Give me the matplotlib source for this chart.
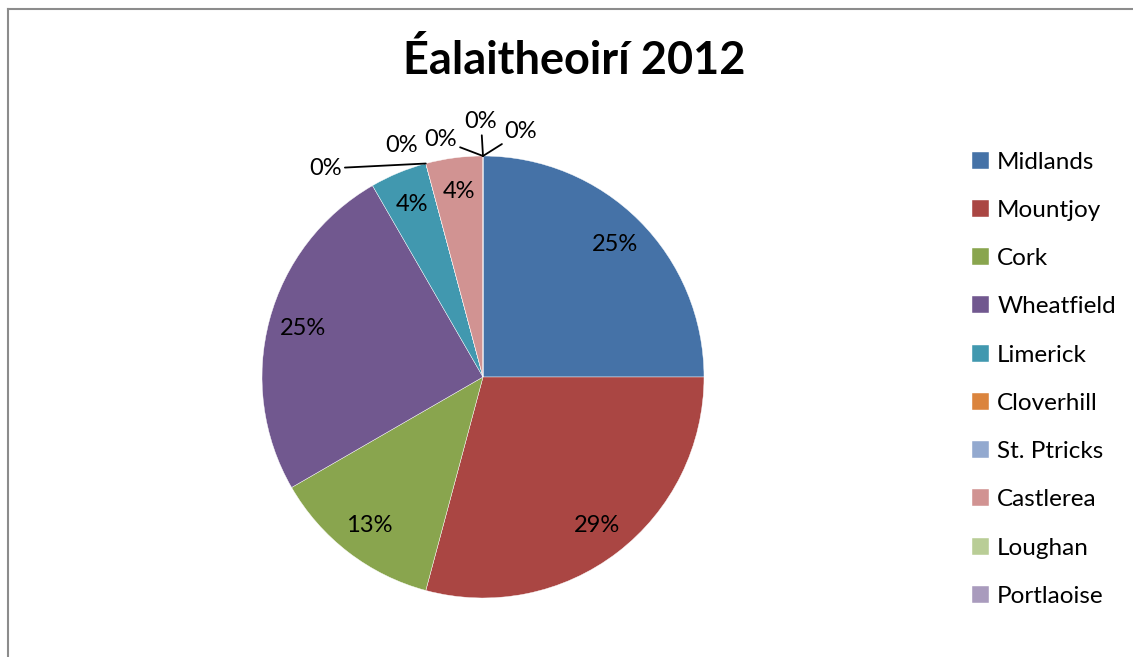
import numpy as np
import matplotlib
matplotlib.use("Agg")
import matplotlib.pyplot as plt
from matplotlib.lines import Line2D

plt.rcParams['font.family'] = ['Lato', 'DejaVu Sans']

# prisons (the last one is cut from the legend in the original chart)
prisons = ["Midlands", "Mountjoy", "Cork", "Wheatfield", "Limerick",
           "Cloverhill", "St. Ptricks", "Castlerea", "Loughan", "Portlaoise", ""]
escapes = [6, 7, 3, 6, 1, 0, 0, 1, 0, 0, 0]
colors = ["#4572A7", "#AA4643", "#89A54E", "#71588F", "#4198AF",
          "#DB843D", "#93A9CF", "#D19392", "#B9CD96", "#A99BBD", "#4572A7"]

# pixel offsets of the 0% labels from their wedge edge (dx, dy up), and leader line on/off
zero_offsets = {5: (-100, -5, True), 6: (-24, 18, False), 8: (-42, 16, True),
                9: (-2, 34, True), 10: (38, 24, True)}

W, H = 1133, 657
fig = plt.figure(figsize=(W / 100, H / 100), dpi=100)

# chart border (only left and top visible)
fig.add_artist(Line2D([7.5 / W, 7.5 / W], [0, 1 - 9 / H], color="#8c8c8c", lw=1.5))
fig.add_artist(Line2D([7.5 / W, 1], [1 - 9 / H, 1 - 9 / H], color="#8c8c8c", lw=1.5))

cx, cy, r = 483, 377, 221
ax = fig.add_axes([(cx - r) / W, (H - cy - r) / H, 2 * r / W, 2 * r / H])
wedges, _ = ax.pie(escapes, colors=colors, startangle=90, counterclock=False,
                   radius=1, wedgeprops=dict(edgecolor="white", linewidth=0.3))
ax.set_xlim(-1, 1)
ax.set_ylim(-1, 1)
ax.set_aspect("equal")
ax.axis("off")

total = sum(escapes)
for i, w in enumerate(wedges):
    pct = "{}%".format(int(100 * escapes[i] / total + 0.5))  # round half up like Excel
    if escapes[i] > 0:
        mid = np.deg2rad((w.theta1 + w.theta2) / 2)
        ax.text(0.845 * np.cos(mid), 0.845 * np.sin(mid), pct, ha="center", va="center",
                fontsize=17, color="black")
    else:
        ang = np.deg2rad(w.theta1)
        x0, y0 = np.cos(ang), np.sin(ang)
        dx, dy, line = zero_offsets[i]
        ax.annotate(pct, xy=(x0, y0), xytext=(dx, dy), textcoords="offset pixels",
                    ha="center", va="center", fontsize=17, annotation_clip=False,
                    arrowprops=dict(arrowstyle="-", color="black", lw=1.3,
                                    shrinkA=0, shrinkB=0) if line else None)

fig.text(574 / W, 1 - 60 / H, "Éalaitheoirí 2012", ha="center", va="center",
         fontsize=32.5, fontweight="bold")

fig.legend(wedges[:10], prisons[:10], loc="upper left", bbox_to_anchor=(962 / W, 1 - 142 / H),
           frameon=False, fontsize=17.5, handlelength=0.7, handleheight=0.7,
           handletextpad=0.35, labelspacing=1.12, borderaxespad=0)

fig.savefig("out.png", dpi=100)
